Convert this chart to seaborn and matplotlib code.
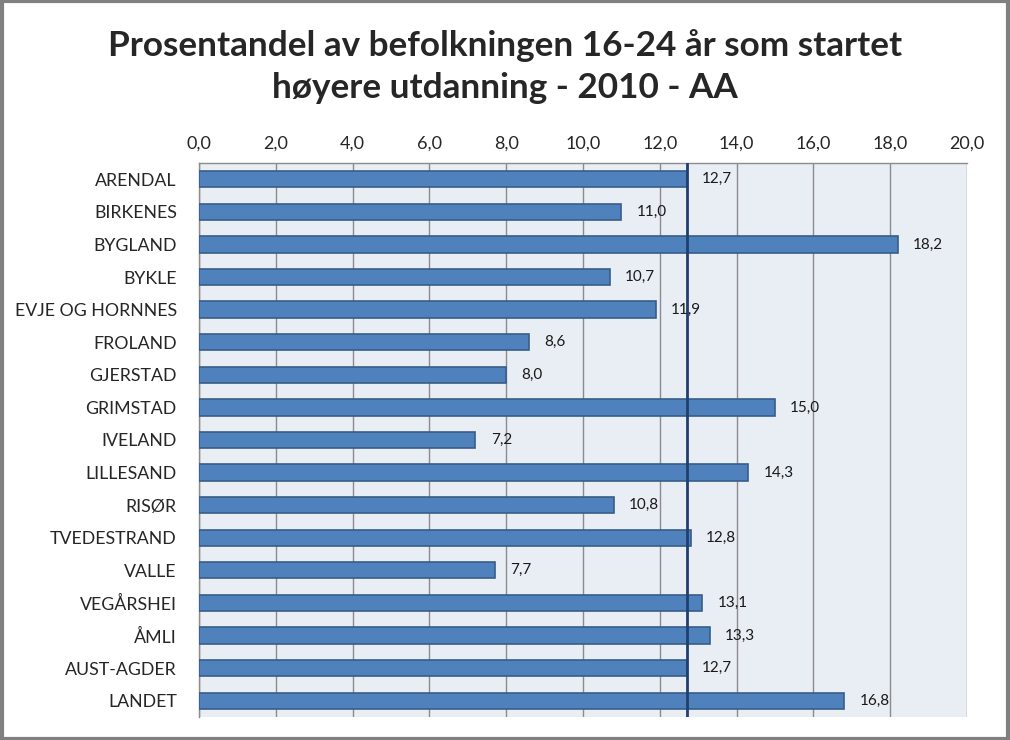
import matplotlib
matplotlib.use("Agg")
import matplotlib.pyplot as plt
import seaborn as sns
import pandas as pd

categories = ["ARENDAL", "BIRKENES", "BYGLAND", "BYKLE", "EVJE OG HORNNES", "FROLAND",
              "GJERSTAD", "GRIMSTAD", "IVELAND", "LILLESAND", "RISØR", "TVEDESTRAND",
              "VALLE", "VEGÅRSHEI", "ÅMLI", "AUST-AGDER", "LANDET"]
values = [12.7, 11.0, 18.2, 10.7, 11.9, 8.6, 8.0, 15.0, 7.2, 14.3, 10.8, 12.8,
          7.7, 13.1, 13.3, 12.7, 16.8]
reference_value = 12.7
xticks = [0, 2, 4, 6, 8, 10, 12, 14, 16, 18, 20]

sns.set_style("white")
plt.rcParams['font.family'] = ['Lato', 'DejaVu Sans']

df = pd.DataFrame({"kommune": categories, "prosent": values})

fig = plt.figure(figsize=(10.1, 7.4), dpi=100)
ax = fig.add_axes([199/1010, 1 - 717/740, (967-199)/1010, (717-163)/740])
ax.set_facecolor("#E9EDF4")

sns.barplot(data=df, x="prosent", y="kommune", orient="h", ax=ax,
            color="#4F81BD", saturation=1, width=0.5,
            edgecolor="#385D8A", linewidth=1.2, zorder=3)

for c in ax.containers:
    ax.bar_label(c, labels=[f"{v:.1f}".replace(".", ",") for v in values],
                 padding=11, fontsize=11, color="#1a1a1a", zorder=5)

ax.axvline(reference_value, color="#1F3F6E", linewidth=2, zorder=4)

ax.set_xlim(0, 20)
ax.set_ylim(len(categories) - 0.5, -0.5)
ax.set_xticks(xticks)
ax.set_xticklabels([f"{t:.1f}".replace(".", ",") for t in xticks], fontsize=13)
ax.xaxis.tick_top()
ax.tick_params(axis="x", length=0, pad=8)
ax.tick_params(axis="y", length=0, pad=16, labelsize=12.8)
ax.grid(axis="x", color="#8C8C8C", linewidth=1, zorder=0)
ax.set_axisbelow(True)
ax.set_xlabel("")
ax.set_ylabel("")
for s in ["right", "bottom"]:
    ax.spines[s].set_visible(False)
for s in ["top", "left"]:
    ax.spines[s].set_color("#8C8C8C")
    ax.spines[s].set_linewidth(1)

fig.text(0.5, 1 - 66.5/740, "Prosentandel av befolkningen 16-24 år som startet\nhøyere utdanning - 2010 - AA",
         ha="center", va="center", fontsize=25.3, fontweight="bold", linespacing=1.42)

fig.patches.append(plt.Rectangle((0.0015, 0.002), 0.997, 0.996, transform=fig.transFigure,
                                 fill=False, edgecolor="#808080", linewidth=3))

fig.savefig("out.png", dpi=100)
